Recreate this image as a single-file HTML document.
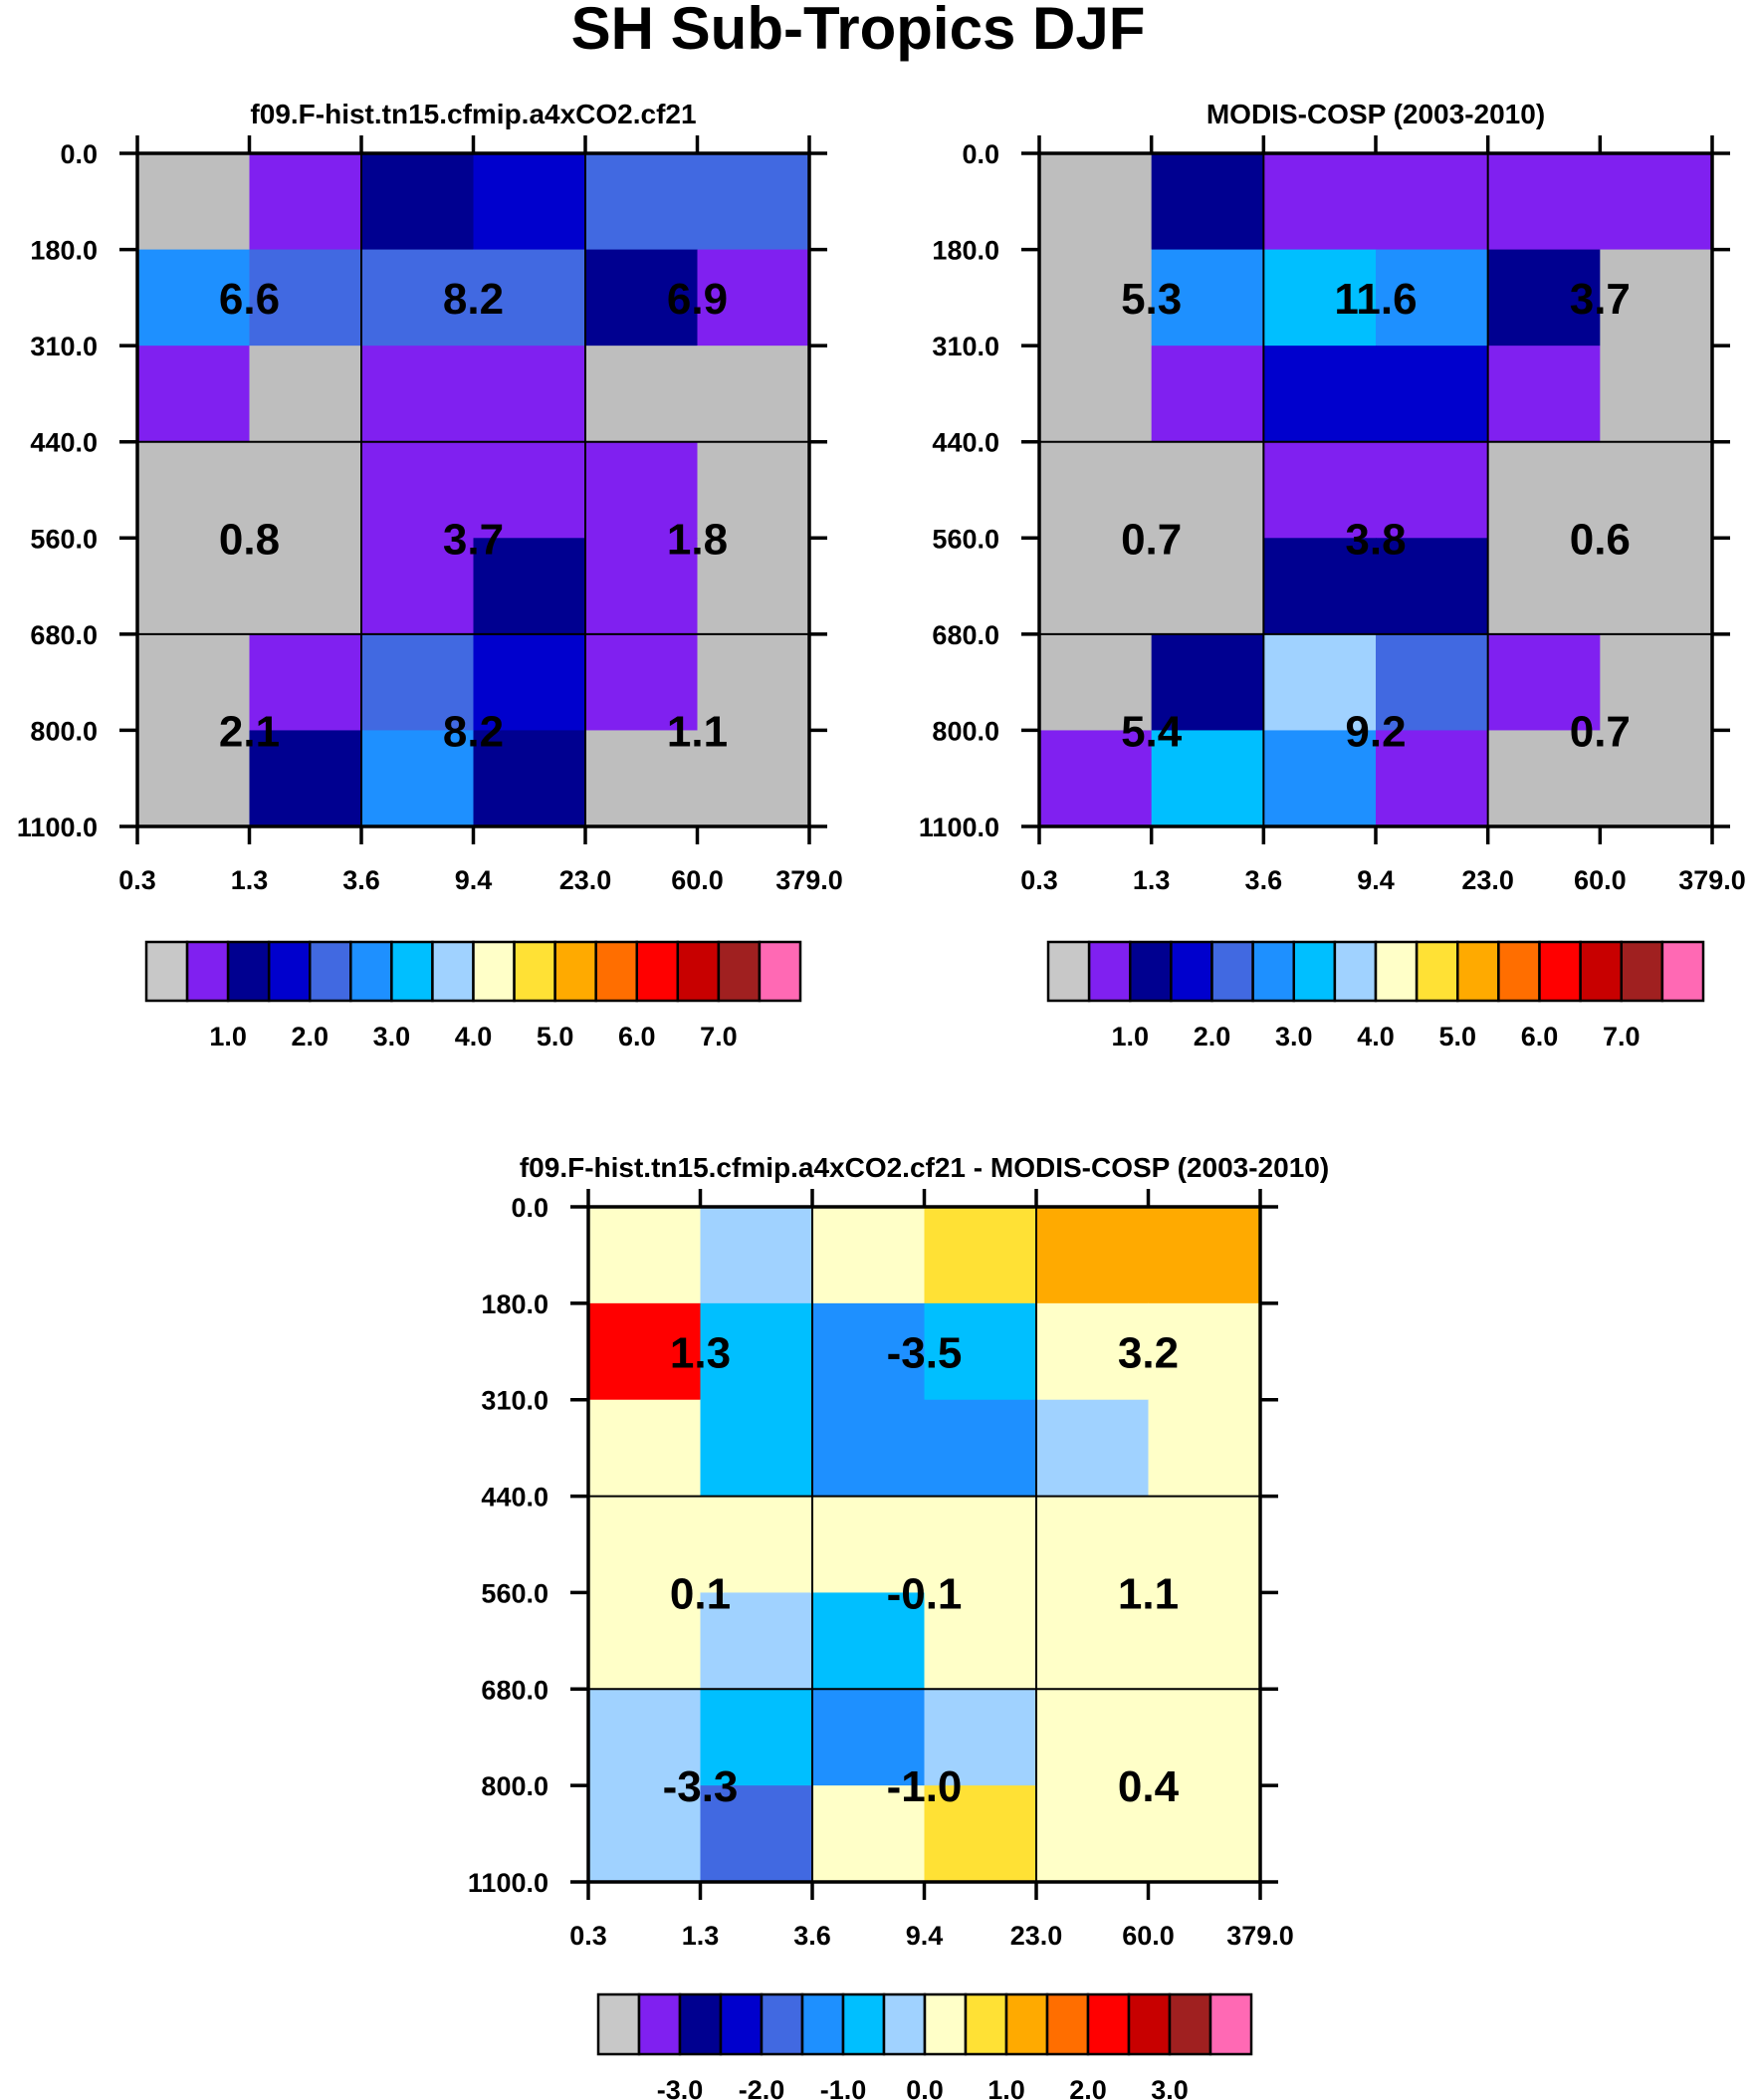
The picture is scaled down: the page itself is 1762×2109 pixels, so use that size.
<!DOCTYPE html>
<html><head><meta charset="utf-8"><style>
html,body{margin:0;padding:0;background:#fff;}
svg{display:block;font-family:"Liberation Sans",Arial,sans-serif;font-weight:bold;}
</style></head><body>
<svg id="root" width="1762" height="2109" viewBox="0 0 1762 2109" xmlns="http://www.w3.org/2000/svg">
<text x="862" y="49" font-size="60" text-anchor="middle">SH Sub-Tropics DJF</text>
</svg>
<script>
const palette = ["#BEBEBE","#8020F0","#000090","#0000CD","#4169E1","#1E90FF","#00BFFF","#A0D2FF","#FFFFC8","#FFE135","#FFAA00","#FF6E00","#FF0000","#C80000","#A02020","#FF69B4"];
const xTickLabels = ["0.3","1.3","3.6","9.4","23.0","60.0","379.0"];
const yTickLabels = ["0.0","180.0","310.0","440.0","560.0","680.0","800.0","1100.0"];
const panel1Cells = [
 [0,1,2,3,4,4],
 [5,4,4,4,2,1],
 [1,0,1,1,0,0],
 [0,0,1,1,1,0],
 [0,0,1,2,1,0],
 [0,1,4,3,1,0],
 [0,2,5,2,0,0]];
const panel2Cells = [
 [0,2,1,1,1,1],
 [0,5,6,5,2,0],
 [0,1,3,3,1,0],
 [0,0,1,1,0,0],
 [0,0,2,2,0,0],
 [0,2,7,4,1,0],
 [1,6,5,1,0,0]];
const panel3Cells = [
 [8,7,8,9,10,10],
 [12,6,5,6,8,8],
 [8,6,5,5,7,8],
 [8,8,8,8,8,8],
 [8,7,6,8,8,8],
 [7,6,5,7,8,8],
 [7,4,8,9,8,8]];
const panel1Values = [["6.6","8.2","6.9"],["0.8","3.7","1.8"],["2.1","8.2","1.1"]];
const panel2Values = [["5.3","11.6","3.7"],["0.7","3.8","0.6"],["5.4","9.2","0.7"]];
const panel3Values = [["1.3","-3.5","3.2"],["0.1","-0.1","1.1"],["-3.3","-1.0","0.4"]];
const valueRowPos = [1.5,4,6];
const valueColPos = [1,3,5];
const cbLabels1 = ["1.0","2.0","3.0","4.0","5.0","6.0","7.0"];
const cbLabels3 = ["-3.0","-2.0","-1.0","0.0","1.0","2.0","3.0"];

const NS="http://www.w3.org/2000/svg";
const root=document.getElementById('root');
function mk(tag,attrs,parent){const e=document.createElementNS(NS,tag);for(const k in attrs)e.setAttribute(k,attrs[k]);(parent||root).appendChild(e);return e;}

function panel(name,L,T,W,H,title,cells,values,cb){
  const g=mk('g',{});
  
  
  const nr=cells.length,nc=cells[0].length;
  const xs=i=>L+i*W/nc, ys=j=>T+j*H/nr;
  const t=mk('text',{x:L+W/2,y:T-30,'font-size':28,'text-anchor':'middle'},g);
  t.textContent=title;
  
  
  for(let r=0;r<nr;r++)for(let c=0;c<nc;c++){
    const rc=mk('rect',{x:xs(c),y:ys(r),width:W/nc+0.5,height:H/nr+0.5,fill:palette[cells[r][c]]},g);
    
    
  }
  [2,4].forEach(i=>mk('line',{x1:xs(i),x2:xs(i),y1:T,y2:T+H,stroke:'#000','stroke-width':2},g));
  [3,5].forEach(j=>mk('line',{x1:L,x2:L+W,y1:ys(j),y2:ys(j),stroke:'#000','stroke-width':2},g));
  values.forEach((row,ri)=>row.forEach((v,ci)=>{
    const tx=mk('text',{x:xs(valueColPos[ci]),y:ys(valueRowPos[ri])+16,'font-size':44,'text-anchor':'middle'},g);
    tx.textContent=v;
    
    
  }));
  mk('rect',{x:L,y:T,width:W,height:H,fill:'none',stroke:'#000','stroke-width':3.5},g);
  const tl=18;
  xTickLabels.forEach((lab,i)=>{
    const x=xs(i);
    mk('line',{x1:x,x2:x,y1:T,y2:T-tl,stroke:'#000','stroke-width':3.5},g);
    mk('line',{x1:x,x2:x,y1:T+H,y2:T+H+tl,stroke:'#000','stroke-width':3.5},g);
    const tx=mk('text',{x:x,y:T+H+63,'font-size':27,'text-anchor':'middle'},g);
    tx.textContent=lab;
    
    
  });
  yTickLabels.forEach((lab,j)=>{
    const y=ys(j);
    mk('line',{x1:L,x2:L-tl,y1:y,y2:y,stroke:'#000','stroke-width':3.5},g);
    mk('line',{x1:L+W,x2:L+W+tl,y1:y,y2:y,stroke:'#000','stroke-width':3.5},g);
    const tx=mk('text',{x:L-40,y:y+10,'font-size':27,'text-anchor':'end'},g);
    tx.textContent=lab;
    
    
  });
  const cg=mk('g',{},root);
  
  
  const bw=(cb.w)/palette.length;
  palette.forEach((col,i)=>{
    const r=mk('rect',{x:cb.x+i*bw,y:cb.y,width:bw,height:cb.h,fill:i===0?'#C8C8C8':col,stroke:'#000','stroke-width':2.5},cg);
    
    
  });
  cb.labels.forEach((lab,i)=>{
    const tx=mk('text',{x:cb.x+(2+2*i)*bw,y:cb.y+cb.h+45,'font-size':27,'text-anchor':'middle'},cg);
    tx.textContent=lab;
    
    
  });
}
panel('panel-model',138,154,675,676,'f09.F-hist.tn15.cfmip.a4xCO2.cf21',panel1Cells,panel1Values,{x:147,y:946,w:657,h:59,labels:cbLabels1});
panel('panel-obs',1044,154,676,676,'MODIS-COSP (2003-2010)',panel2Cells,panel2Values,{x:1053,y:946,w:658,h:59,labels:cbLabels1});
panel('panel-diff',591,1212,675,678,'f09.F-hist.tn15.cfmip.a4xCO2.cf21 - MODIS-COSP (2003-2010)',panel3Cells,panel3Values,{x:601,y:2003,w:656,h:60,labels:cbLabels3});
</script>
</body></html>
